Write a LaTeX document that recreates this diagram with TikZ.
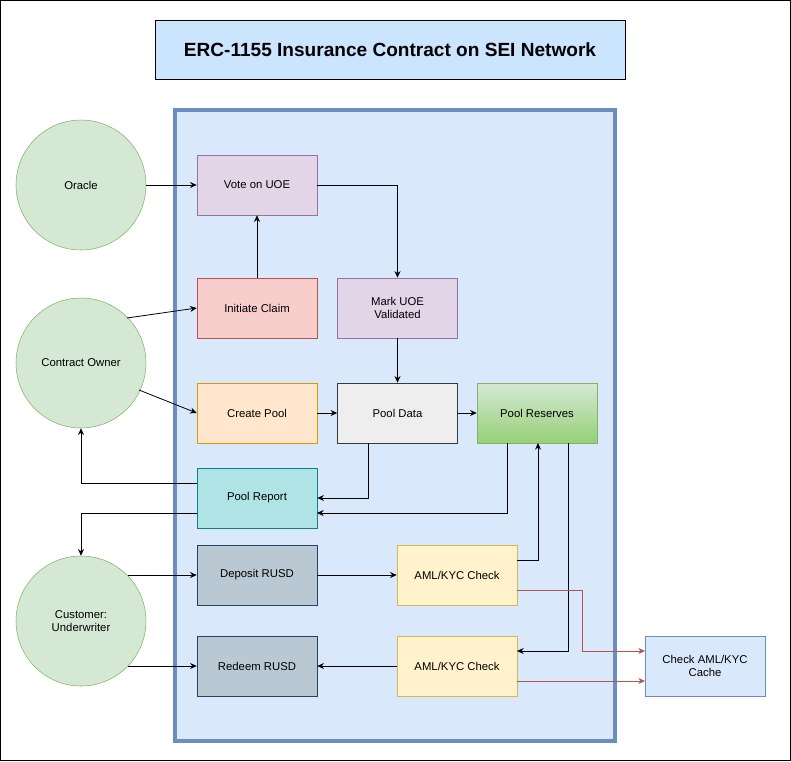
\documentclass[tikz,border=0pt]{standalone}
\usepackage{fontspec}
\setmainfont{Liberation Sans}
\usetikzlibrary{arrows.meta}
\definecolor{gfill}{HTML}{D5E8D4}\definecolor{gline}{HTML}{82B366}
\definecolor{pfill}{HTML}{E1D5E7}\definecolor{pline}{HTML}{9673A6}
\definecolor{rfill}{HTML}{F8CECC}\definecolor{rline}{HTML}{B85450}
\definecolor{ofill}{HTML}{FFE6CC}\definecolor{oline}{HTML}{D79B00}
\definecolor{grfill}{HTML}{EEEEEE}\definecolor{grline}{HTML}{36393D}
\definecolor{tfill}{HTML}{B0E3E6}\definecolor{tline}{HTML}{0E8088}
\definecolor{sfill}{HTML}{BAC8D3}\definecolor{sline}{HTML}{23445D}
\definecolor{yfill}{HTML}{FFF2CC}\definecolor{yline}{HTML}{D6B656}
\definecolor{bfill}{HTML}{DAE8FC}\definecolor{bline}{HTML}{6C8EBF}
\definecolor{tbfill}{HTML}{CCE5FF}\definecolor{gdark}{HTML}{97D077}
\tikzset{
 box/.style={draw, minimum width=90pt, minimum height=45pt, align=center, font=\fontsize{8.5}{10}\selectfont, inner sep=1pt},
 circ/.style={circle, draw=gline, fill=gfill, minimum size=97.5pt, align=center, font=\fontsize{8.5}{10}\selectfont},
 arr/.style={-{Stealth[length=5pt,width=4.5pt]}, line width=0.6pt},
 rarr/.style={arr, draw=rline, color=rline}
}
\begin{document}
\begin{tikzpicture}[x=0.75pt,y=-0.75pt]
\useasboundingbox (0,0) rectangle (791,761);
\draw[line width=0.6pt] (0.5,0.5) rectangle (790.5,760.5);
\node[draw=black, fill=tbfill, minimum width=352.5pt, minimum height=44pt, font=\bfseries\fontsize{14.3}{17}\selectfont] (title) at (390,50) {ERC-1155 Insurance Contract on SEI Network};
\draw[draw=bline, fill=bfill, line width=3pt] (175,110) rectangle (615,741);
\node[circ] (oracle) at (81,185) {Oracle};
\node[circ] (owner) at (81,363) {Contract Owner};
\node[circ] (cust) at (81,621) {Customer:\\Underwriter};
\node[box, draw=pline, fill=pfill] (vote) at (257,185) {Vote on UOE};
\node[box, draw=rline, fill=rfill] (claim) at (257,308) {Initiate Claim};
\node[box, draw=pline, fill=pfill] (mark) at (397.5,308) {Mark UOE\\Validated};
\node[box, draw=oline, fill=ofill] (create) at (257,413) {Create Pool};
\node[box, draw=grline, fill=grfill] (data) at (397.5,413) {Pool Data};
\node[box, draw=gline, top color=gfill, bottom color=gdark] (res) at (537,413) {Pool Reserves};
\node[box, draw=tline, fill=tfill] (report) at (257,498) {Pool Report};
\node[box, draw=sline, fill=sfill] (dep) at (257,575) {Deposit RUSD};
\node[box, draw=yline, fill=yfill] (aml1) at (457,575) {AML/KYC Check};
\node[box, draw=sline, fill=sfill] (red) at (257,666) {Redeem RUSD};
\node[box, draw=yline, fill=yfill] (aml2) at (457,666) {AML/KYC Check};
\node[box, draw=bline, fill=bfill] (cache) at (705,666) {Check AML/KYC\\Cache};
\draw[arr] (oracle.east) -- (vote.west);
\draw[arr] (vote.east) -| (mark.north);
\draw[arr] (claim.north) -- (vote.south);
\draw[arr] (127,318) -- (claim.west);
\draw[arr] (139,390) -- (create.west);
\draw[arr] (create.east) -- (data.west);
\draw[arr] (mark.south) -- (data.north);
\draw[arr] (data.east) -- (res.west);
\draw[arr] (368,443) |- (report.east);
\draw[arr] (507,443) |- (317,513);
\draw[arr] (197,483) -| (owner.south);
\draw[arr] (197,513) -| (cust.north);
\draw[arr] (128,575) -- (dep.west);
\draw[arr] (dep.east) -- (aml1.west);
\draw[arr] (517,560) -| (538,443);
\draw[arr] (568,443) |- (517,651);
\draw[arr] (aml2.west) -- (red.east);
\draw[arr] (128,666) -- (red.west);
\draw[rarr] (517,590) -| (582,651) -- (645,651);
\draw[rarr] (517,681) -- (645,681);
\end{tikzpicture}
\end{document}
